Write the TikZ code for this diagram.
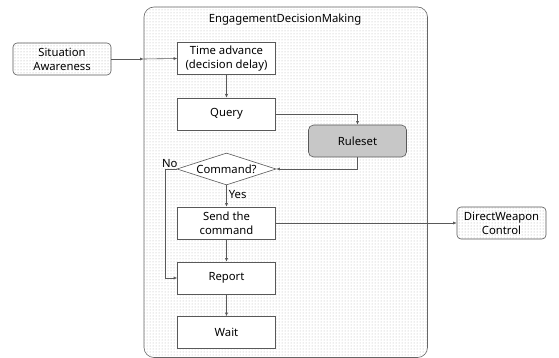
\documentclass[tikz,border=0pt]{standalone}
\usepackage{fontspec}
\setmainfont{Noto Sans}
\usetikzlibrary{arrows.meta,patterns,shapes.geometric}
\begin{document}
\begin{tikzpicture}[x=1pt,y=-1pt,
  font=\fontsize{11.3}{14}\selectfont,
  line/.style={draw=black!65, line width=0.6pt},
  arr/.style={line, -{Latex[length=3.5pt,width=3pt]}},
  box/.style={draw=black!65, line width=0.6pt, fill=white, minimum width=98pt, minimum height=32pt, align=center, inner sep=1pt},
  extbox/.style={box, rounded corners=4pt, pattern=dots, pattern color=black!35},
  rulebox/.style={box, rounded corners=5pt, fill=black!22},
  decision/.style={diamond, aspect=3, draw=black!65, line width=0.6pt, fill=white, minimum width=99pt, minimum height=32pt, inner sep=0pt},
  container/.style={draw=black!60, line width=0.6pt, rounded corners=10pt, pattern=dots, pattern color=black!30}
]
\useasboundingbox (0,0) rectangle (559,358);
\node[container, minimum width=283.5pt, minimum height=350.5pt] (cont) at (285.75,182.25) {};
\node (title) at (285,20) {EngagementDecisionMaking};
\node[extbox] (sa) at (62,59) {Situation\\Awareness};
\node[box] (time) at (226.5,58.5) {Time advance\\(decision delay)};
\node[box] (query) at (226.5,114) {Query};
\node[rulebox] (rules) at (357.5,141) {Ruleset};
\node[decision] (cmd) at (226.5,169) {Command?};
\node[box] (send) at (226.5,223) {Send the\\command};
\node[box] (report) at (226.5,278) {Report};
\node[box] (wait) at (226.5,332.5) {Wait};
\node[extbox, minimum width=89pt] (dw) at (501.5,223) {DirectWeapon\\Control};
\coordinate (cport) at (cont.west |- sa.east);
\coordinate (nobend) at ([xshift=-11pt]cmd.west);
\draw[arr] (sa.east) -- (cport);
\draw[arr] (cport) -- (time.west);
\draw[arr] (time) -- (query);
\draw[arr] (query.east) -| (rules.north);
\draw[arr] (rules.south) |- (cmd.east);
\draw[arr] (cmd.south) -- node[right, pos=0.45, inner sep=2pt] (yes) {Yes} (send.north);
\draw[arr] (cmd.west) -- (nobend) |- (report.west);
\node[above left, inner sep=1pt, xshift=2pt] (no) at (cmd.west) {No};
\draw[arr] (send) -- (report);
\draw[arr] (report) -- (wait);
\draw[arr] (send.east) -- (dw.west);
\end{tikzpicture}
\end{document}
